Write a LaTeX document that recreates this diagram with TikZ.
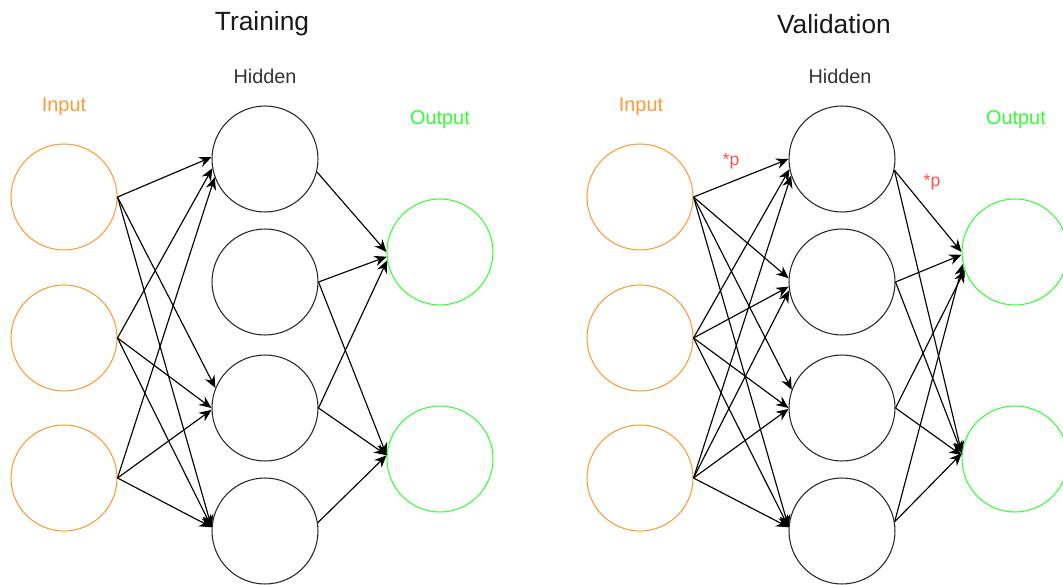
\documentclass[tikz,border=0pt]{standalone}
\usepackage{fontspec}
\setmainfont{Liberation Sans}
\usetikzlibrary{arrows.meta}

\definecolor{inorange}{RGB}{255,153,51}
\definecolor{outgreen}{RGB}{51,255,51}
\definecolor{dropred}{RGB}{255,80,80}
\definecolor{taggrey}{RGB}{51,51,51}

\tikzset{
  neuron/.style={circle, draw, line width=0.6pt, minimum size=2.12cm, inner sep=0pt},
  inneuron/.style={neuron, draw=inorange},
  hidneuron/.style={neuron, draw=black!85},
  outneuron/.style={neuron, draw=outgreen},
  nettitle/.style={font=\fontsize{15}{18}\selectfont, text=black!90},
  layertag/.style={font=\fontsize{11.3}{13}\selectfont},
  droptag/.style={font=\fontsize{10}{12}\selectfont, text=dropred},
  link/.style={-{Stealth[length=7pt,width=6pt]}, line width=0.65pt}
}

\begin{document}
\begin{tikzpicture}[x=0.02cm, y=-0.02cm]
    \useasboundingbox (0,0) rectangle (1063,585);

    % training net
    \node[nettitle] (ttitle) at (262,24) {Training};
    \node[layertag, text=taggrey] (thtag) at (265,76) {Hidden};
    \node[layertag, text=inorange] (titag) at (64,107) {Input};
    \node[layertag, text=outgreen] (totag) at (440,120) {Output};
    \foreach \i/\y in {1/197,2/338,3/478} \node[inneuron] (ti\i) at (64,\y) {};
    \foreach \i/\y in {1/159,2/282,3/408,4/531} \node[hidneuron] (th\i) at (265,\y) {};
    \foreach \i/\y in {1/252,2/459} \node[outneuron] (to\i) at (440,\y) {};

    % input to hidden (hidden 2 gets nothing)
    \foreach \a/\b/\ang in {1/1/178, 2/1/190, 3/1/200, 1/3/158, 2/3/180, 3/3/182, 1/4/176, 2/4/176, 3/4/176}
        \draw[link] (ti\a.east) -- (th\b.\ang);
    % hidden to output
    \foreach \a/\sa/\b/\ang in {1/346/1/180, 2/0/1/185, 3/0/1/189, 2/0/2/176, 3/0/2/176, 4/9/2/176}
        \draw[link] (th\a.\sa) -- (to\b.\ang);

    % validation net
    \node[nettitle] (vtitle) at (834,24) {Validation};
    \node[layertag, text=taggrey] (vhtag) at (840,76) {Hidden};
    \node[layertag, text=inorange] (vitag) at (641,107) {Input};
    \node[layertag, text=outgreen] (votag) at (1016,120) {Output};
    \foreach \i/\y in {1/197,2/338,3/478} \node[inneuron] (vi\i) at (640,\y) {};
    \foreach \i/\y in {1/159,2/282,3/408,4/531} \node[hidneuron] (vh\i) at (842,\y) {};
    \foreach \i/\y in {1/252,2/459} \node[outneuron] (vo\i) at (1015,\y) {};

    % input to hidden, all of them
    \foreach \a/\b/\ang in {1/1/180, 2/1/191, 3/1/198, 1/2/176, 2/2/185, 3/2/189, 1/3/160, 2/3/180, 3/3/181, 1/4/176, 2/4/176, 3/4/176}
        \draw[link] (vi\a.east) -- (vh\b.\ang);
    % hidden to output, all of them
    \foreach \a/\sa/\b/\ang in {1/348/1/180, 2/0/1/183, 3/0/1/200, 4/10/1/193, 1/348/2/174, 2/0/2/174, 3/0/2/176, 4/10/2/174}
        \draw[link] (vh\a.\sa) -- (vo\b.\ang);

    % weights scaled
    \node[droptag] (p1) at (731,161) {*p};
    \node[droptag] (p2) at (932,182) {*p};
\end{tikzpicture}
\end{document}
